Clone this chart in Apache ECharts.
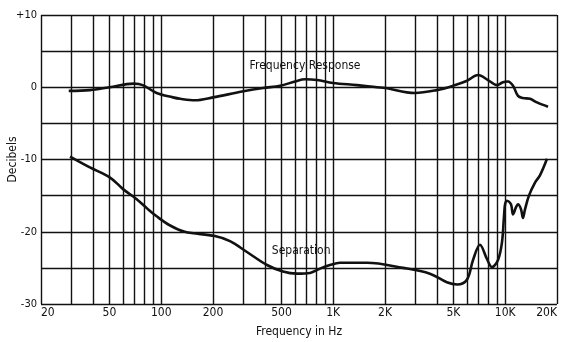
<!DOCTYPE html>
<html>
<head>
<meta charset="utf-8">
<script src="https://cdn.jsdelivr.net/npm/echarts@6/dist/echarts.min.js"></script>
<style>html,body{margin:0;padding:0;background:#fff;}#c{width:568px;height:342px;}</style>
</head>
<body>
<div id="c"></div>
<script>
// Frequency response (Hz, dB)
var frFreq = [29, 38.5, 50, 69, 78, 94, 117, 129, 157, 200, 295, 391, 491, 600, 686, 805, 997, 1374, 1796, 2000, 2985, 4000, 4966, 6000, 6950, 7940, 8960, 9700, 10380, 11100, 11860, 12680, 13940, 15300, 17740];
var frDb   = [-0.5, -0.4, 0, 0.5, 0.3, -0.8, -1.4, -1.6, -1.8, -1.4, -0.6, -0.1, 0.2, 0.8, 1.1, 1.0, 0.6, 0.3, 0.0, -0.1, -0.8, -0.4, 0.2, 0.9, 1.7, 1.0, 0.3, 0.7, 0.8, 0.2, -1.2, -1.5, -1.6, -2.1, -2.7];
// Separation (Hz, dB)
var sepFreq = [29.5, 38.5, 50.4, 60, 72, 83, 94.5, 112, 137, 205, 251, 315, 412, 510, 615, 733, 838, 958, 1094, 1570, 2546, 3650, 4580, 5250, 6000, 6500, 7130, 7840, 8380, 9080, 9570, 9840, 9980, 10240, 10800, 11100, 11560, 11860, 12360, 12680, 13030, 13740, 14900, 15920, 17500];
var sepDb   = [-9.6, -11.1, -12.5, -14.1, -15.5, -16.8, -17.9, -19.1, -20.0, -20.6, -21.3, -22.8, -24.6, -25.5, -25.8, -25.7, -25.1, -24.6, -24.3, -24.3, -25.0, -25.8, -27.0, -27.3, -26.6, -23.9, -21.8, -23.8, -24.9, -23.9, -21.5, -17.8, -16.2, -15.7, -16.2, -17.6, -16.6, -16.2, -16.9, -18.1, -16.9, -15.0, -13.2, -12.2, -9.9];
// Axis ticks
var gridFreqs = [20,30,40,50,60,70,80,90,100,200,300,400,500,600,700,800,900,1000,2000,3000,4000,5000,6000,7000,8000,9000,10000,20000];
var xTickFreqs = [20,50,100,200,500,1000,2000,5000,10000,20000];
var xTickLabels = ['20','50','100','200','500','1K','2K','5K','10K','20K'];
var yTicks = [-30,-20,-10,0,10];
var yTickLabels = ['-30','-20','-10','0','+10'];

var L = function(f){ return Math.log10(f); };
function pairs(fs, ds){ return fs.map(function(f,i){ return [L(f), ds[i]]; }); }

var FONT = "'Liberation Sans Narrow','DejaVu Sans Condensed','Liberation Sans',sans-serif";
var chart = echarts.init(document.getElementById('c'), null, {renderer:'canvas'});
chart.setOption({
  animation: false,
  backgroundColor: '#fff',
  grid: {left: 41, right: 11, top: 15, bottom: 38, containLabel: false, outerBoundsMode: 'none'},
  xAxis: {
    type: 'value', min: L(20), max: L(20000),
    name: 'Frequency in Hz', nameLocation: 'middle', nameGap: 22, nameMoveOverlap: false,
    nameTextStyle: {color:'#111', fontFamily: FONT, fontSize: 12},
    axisLine: {show: false},
    axisTick: {show: false, customValues: gridFreqs.map(L)},
    axisLabel: {
      customValues: xTickFreqs.map(L), color:'#111', fontFamily: FONT, fontSize: 12, margin: 3,
      alignMinLabel: 'left', alignMaxLabel: 'right',
      formatter: function(v){
        var best = 0, bd = 1e9;
        for (var i=0;i<xTickFreqs.length;i++){ var d=Math.abs(L(xTickFreqs[i])-v); if(d<bd){bd=d;best=i;} }
        return xTickLabels[best];
      }
    },
    splitLine: {show: true, lineStyle: {color:'#111', width: 1.4}}
  },
  yAxis: {
    type: 'value', min: -30, max: 10, interval: 5,
    name: 'Decibels', nameLocation: 'middle', nameGap: 22, nameRotate: 90, nameMoveOverlap: false,
    nameTextStyle: {color:'#111', fontFamily: FONT, fontSize: 12},
    axisLine: {show: false}, axisTick: {show: false},
    axisLabel: {
      color:'#111', fontFamily: FONT, fontSize: 11, margin: 4,
      formatter: function(v){ var i = yTicks.indexOf(v); return i>=0 ? yTickLabels[i] : ''; }
    },
    splitLine: {show: true, lineStyle: {color:'#111', width: 1.4}}
  },
  series: [
    {
      type: 'line', name: 'Frequency Response', data: pairs(frFreq, frDb),
      smooth: 0.35, symbol: 'none', lineStyle: {color:'#111', width: 2.6}, z: 5,
      markPoint: {
        symbol: 'circle', symbolSize: 0,
        label: {show: true, formatter: 'Frequency Response', color:'#111', fontFamily: FONT, fontSize: 12, position: 'inside'},
        data: [{coord: [L(686), 2.9]}]
      }
    },
    {
      type: 'line', name: 'Separation', data: pairs(sepFreq, sepDb),
      smooth: 0.35, symbol: 'none', lineStyle: {color:'#111', width: 2.6}, z: 5,
      markPoint: {
        symbol: 'circle', symbolSize: 0,
        label: {show: true, formatter: 'Separation', color:'#111', fontFamily: FONT, fontSize: 12, position: 'inside'},
        data: [{coord: [L(651), -22.6]}]
      }
    }
  ]
});
</script>
</body>
</html>
